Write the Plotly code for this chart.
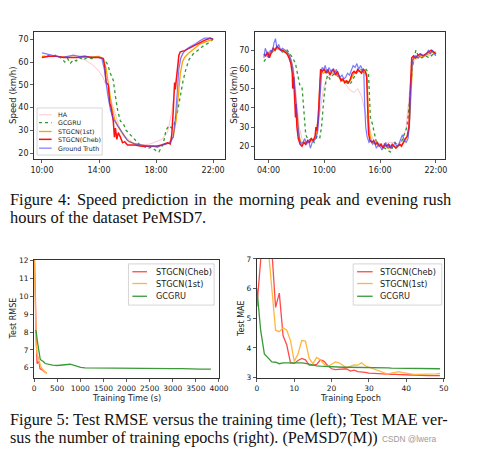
import plotly.graph_objects as go

W, H = 478, 467

# ---------------- data: top-left (evening rush, hours) ----------------
tl_ha_t = [10.0, 11.0, 12.0, 12.5, 13.0, 13.5, 14.0, 14.3, 14.6, 14.9, 15.2, 15.5, 15.9, 16.4, 17.0, 17.6, 18.0, 18.4, 18.8, 19.1, 19.4, 19.6, 19.9, 20.4, 21.0, 21.5, 22.0]
tl_ha_v = [62.5, 62.5, 62, 62, 61, 59, 56, 53, 48, 42, 35, 30, 27, 24.5, 23.5, 24, 25, 26, 29, 38, 52, 60, 64, 67, 69, 70, 70]

tl_gc_t = [10.0, 10.3, 10.6, 11.0, 11.3, 11.6, 11.8, 12.0, 12.2, 12.4, 12.6, 12.9, 13.2, 13.5, 13.8, 14.1, 14.4, 14.6, 14.8, 15.0, 15.15, 15.3, 15.5, 15.7, 15.9, 16.2, 16.5, 16.8, 17.1, 17.4, 17.7, 18.0, 18.2, 18.4, 18.5, 18.7, 18.9, 19.1, 19.3, 19.5, 19.7, 19.9, 20.1, 20.3, 20.6, 20.9, 21.3, 21.7, 22.0]
tl_gc_v = [62, 63, 62.5, 63, 62, 60, 61.5, 59.5, 61, 60.5, 62, 61, 62, 61.5, 62, 62, 61, 59, 55, 52, 45, 39, 34, 33, 30, 28, 26, 24, 23, 22, 22.5, 21, 20.5, 22.5, 24, 30, 32, 31, 33, 38, 46, 52, 57, 61, 63.5, 65, 67, 68.5, 70]

tl_st1_t = [10.0, 11.0, 12.0, 13.0, 14.0, 14.3, 14.5, 14.7, 14.9, 15.1, 15.3, 15.5, 15.8, 16.1, 16.5, 17.0, 17.5, 18.0, 18.5, 18.9, 19.2, 19.4, 19.55, 19.7, 19.85, 20.0, 20.3, 20.7, 21.1, 21.5, 22.0]
tl_st1_v = [62.5, 62.5, 62, 62, 62.5, 61.5, 57, 48, 40, 35, 32, 30, 27, 25, 24, 23.5, 23, 23, 23.5, 24.5, 27, 34, 45, 55, 60, 62, 64, 66, 68, 69, 70]

tl_cheb_t = [10.0, 10.5, 11.0, 11.5, 12.0, 12.5, 13.0, 13.5, 14.0, 14.3, 14.4, 14.5, 14.65, 14.75, 14.85, 15.0, 15.08, 15.15, 15.25, 15.35, 15.5, 15.65, 15.8, 16.0, 16.5, 17.0, 17.5, 18.0, 18.4, 18.8, 19.0, 19.1, 19.2, 19.3, 19.35, 19.45, 19.6, 19.7, 20.0, 20.3, 20.6, 21.0, 21.4, 21.8, 22.0]
tl_cheb_v = [62, 62.5, 62.5, 62, 62, 62, 62.5, 62, 62, 61.5, 58, 51, 50, 42, 40, 34, 27, 31, 26, 29, 27, 24.5, 25, 23.5, 23.5, 23, 23, 23, 23.5, 24.5, 24, 28, 38, 51, 48, 55, 63, 64.5, 65, 66, 67, 68.5, 69.5, 70.5, 70]

tl_gt_t = [10.0, 10.3, 10.7, 11.0, 11.4, 11.8, 12.2, 12.6, 13.0, 13.4, 13.8, 14.0, 14.2, 14.4, 14.6, 14.8, 15.0, 15.3, 15.6, 16.0, 16.5, 17.0, 17.4, 17.8, 18.1, 18.4, 18.7, 19.0, 19.2, 19.35, 19.5, 19.6, 19.75, 19.9, 20.2, 20.5, 20.8, 21.1, 21.4, 21.7, 22.0]
tl_gt_v = [64, 63.5, 63, 62.5, 62, 62.5, 63, 62.5, 62.5, 62, 62, 62, 61.5, 56, 46, 39, 35, 32, 29, 25.5, 24, 23.5, 23, 23, 22.5, 23.5, 24, 24.5, 27, 35, 48, 57, 62, 64, 66, 67, 68, 69.5, 70.5, 70.5, 70]

# ---------------- data: top-right (morning + evening, hours) ----------------
tr_ha_t = [3.5, 4.0, 4.5, 5.0, 5.5, 6.0, 6.4, 6.7, 7.0, 7.3, 7.6, 8.0, 8.5, 9.0, 9.3, 9.6, 9.9, 10.3, 10.8, 11.3, 11.8, 12.3, 12.8, 13.2, 13.6, 14.0, 14.4, 14.8, 15.2, 15.7, 16.3, 16.9, 17.5, 18.0, 18.4, 18.8, 19.1, 19.4, 19.7, 20.2, 21.0, 22.0]
tr_ha_v = [68, 69, 70, 71, 70, 69, 66, 60, 45, 30, 24, 22, 22, 25, 30, 40, 50, 56, 58, 57, 55, 52, 49, 48, 50, 46, 38, 30, 24, 22, 21, 22, 22, 21, 23, 30, 45, 60, 65, 66, 67, 68]

tr_gc_t = [3.5, 3.8, 4.2, 4.6, 5.0, 5.5, 6.0, 6.3, 6.6, 6.9, 7.1, 7.35, 7.6, 7.8, 8.0, 8.3, 8.6, 8.9, 9.2, 9.5, 9.7, 9.95, 10.15, 10.35, 10.6, 10.9, 11.2, 11.5, 11.8, 12.1, 12.4, 12.7, 13.0, 13.3, 13.6, 13.9, 14.2, 14.5, 14.75, 14.95, 15.15, 15.4, 15.6, 15.9, 16.2, 16.5, 16.8, 17.1, 17.3, 17.6, 17.9, 18.2, 18.5, 18.7, 18.9, 19.1, 19.3, 19.5, 19.7, 19.85, 20.1, 20.5, 20.9, 21.3, 21.7, 22.0]
tr_gc_v = [64, 66, 68, 70, 71, 69, 70, 68, 66, 63, 58, 52, 51, 40, 26, 23, 24, 22, 25, 24, 30, 45, 53, 57, 55, 57, 58, 56, 55, 54, 53, 52, 54, 57, 59, 60, 59, 60, 58, 35, 32, 27, 22, 21, 20, 19, 18, 17, 19, 22, 20, 21, 25, 28, 30, 40, 52, 62, 67, 70, 67, 66, 67, 66, 68, 69]

tr_st1_t = [3.5, 3.8, 4.1, 4.4, 4.7, 5.0, 5.3, 5.6, 5.9, 6.2, 6.5, 6.7, 6.9, 7.1, 7.3, 7.5, 7.8, 8.1, 8.4, 8.7, 9.0, 9.2, 9.4, 9.55, 9.7, 9.9, 10.2, 10.5, 10.8, 11.1, 11.4, 11.7, 12.0, 12.3, 12.6, 12.9, 13.2, 13.5, 13.8, 14.1, 14.4, 14.6, 14.75, 14.9, 15.1, 15.4, 15.7, 16.0, 16.3, 16.6, 16.9, 17.2, 17.5, 17.8, 18.1, 18.4, 18.7, 19.0, 19.2, 19.35, 19.5, 19.7, 20.0, 20.4, 20.8, 21.2, 21.6, 22.0]
tr_st1_v = [67, 68, 67, 69, 70, 71, 70, 70, 69, 67, 63, 56, 45, 33, 25, 22, 22, 22, 23, 23, 24, 28, 40, 55, 59, 58, 59, 58, 58, 58, 57, 55, 54, 54, 53, 55, 58, 59, 59, 59, 58, 55, 35, 26, 22, 22, 21, 21, 20, 20, 19, 20, 20, 20, 21, 21, 23, 26, 35, 55, 65, 66, 66, 67, 67, 68, 69, 68]

tr_cheb_t = [3.5, 3.7, 3.9, 4.1, 4.3, 4.5, 4.7, 4.9, 5.1, 5.3, 5.5, 5.8, 6.0, 6.2, 6.4, 6.55, 6.6, 6.7, 6.8, 6.9, 6.95, 7.05, 7.2, 7.4, 7.6, 7.8, 8.0, 8.2, 8.4, 8.6, 8.8, 9.0, 9.1, 9.2, 9.35, 9.5, 9.6, 9.8, 10.0, 10.2, 10.4, 10.6, 10.8, 11.0, 11.2, 11.4, 11.6, 11.8, 12.0, 12.2, 12.4, 12.6, 12.8, 13.0, 13.2, 13.4, 13.6, 13.8, 14.0, 14.2, 14.4, 14.55, 14.65, 14.75, 14.9, 15.1, 15.3, 15.5, 15.7, 15.9, 16.1, 16.3, 16.5, 16.7, 16.9, 17.1, 17.3, 17.5, 17.7, 17.9, 18.1, 18.3, 18.5, 18.7, 18.9, 19.1, 19.2, 19.3, 19.4, 19.6, 19.8, 20.0, 20.3, 20.6, 20.9, 21.2, 21.5, 21.8, 22.0]
tr_cheb_v = [68, 67, 69, 66, 69, 71, 70, 72, 71, 70, 70, 69, 68, 66, 63, 58, 50, 56, 45, 35, 42, 30, 24, 21, 20, 22, 21, 23, 22, 24, 23, 25, 30, 28, 35, 55, 60, 59, 60, 58, 60, 57, 59, 60, 57, 59, 56, 54, 55, 53, 54, 53, 55, 58, 59, 58, 60, 59, 58, 60, 59, 57, 35, 27, 23, 22, 23, 21, 22, 20, 21, 19, 21, 20, 21, 19, 21, 20, 19, 20, 21, 20, 22, 24, 25, 30, 45, 60, 66, 67, 66, 67, 68, 67, 68, 69, 70, 69, 68]

tr_gt_t = [3.5, 3.65, 3.8, 4.0, 4.2, 4.4, 4.6, 4.75, 4.9, 5.1, 5.3, 5.5, 5.8, 6.0, 6.2, 6.4, 6.6, 6.75, 6.9, 7.05, 7.2, 7.35, 7.5, 7.7, 7.9, 8.1, 8.3, 8.5, 8.7, 8.9, 9.1, 9.3, 9.45, 9.6, 9.75, 9.9, 10.1, 10.3, 10.5, 10.7, 10.9, 11.1, 11.3, 11.5, 11.7, 11.9, 12.1, 12.3, 12.5, 12.7, 12.9, 13.1, 13.3, 13.5, 13.7, 13.9, 14.1, 14.25, 14.35, 14.45, 14.6, 14.8, 15.0, 15.2, 15.4, 15.6, 15.8, 16.0, 16.2, 16.4, 16.6, 16.8, 17.0, 17.2, 17.4, 17.6, 17.8, 18.0, 18.2, 18.4, 18.6, 18.8, 19.0, 19.15, 19.3, 19.45, 19.6, 19.8, 20.1, 20.4, 20.7, 21.0, 21.2, 21.4, 21.6, 21.8, 22.0]
tr_gt_v = [66, 71, 69, 66, 70, 69, 74, 76, 71, 73, 70, 71, 70, 69, 68, 65, 61, 55, 45, 36, 29, 23, 21, 22, 24, 21, 23, 19, 22, 23, 24, 28, 40, 55, 61, 60, 62, 58, 61, 59, 60, 58, 60, 57, 56, 57, 55, 56, 58, 57, 60, 62, 61, 63, 60, 62, 60, 58, 40, 30, 25, 22, 23, 21, 22, 19, 21, 20, 18, 20, 22, 19, 21, 19, 20, 22, 20, 21, 24, 26, 23, 22, 24, 30, 50, 63, 66, 67, 66, 68, 67, 68, 70, 68, 70, 68, 67]

# ---------------- data: bottom-left (RMSE vs training time, s) ----------------
bl_cheb_t = [0, 14, 28, 40, 49, 63, 75, 84, 100, 112, 126, 150, 168, 200, 224, 250, 273]
bl_cheb_v = [13, 12, 9.9, 8.2, 7.15, 6.24, 6.28, 6.35, 6.3, 6.24, 5.96, 5.93, 5.9, 5.84, 5.78, 5.74, 5.7]
bl_st1_t = [0, 10, 28, 45, 63, 85, 112, 140, 168, 200, 238, 273]
bl_st1_v = [12.5, 11, 8.1, 7.3, 6.8, 6.55, 6.33, 6.1, 5.96, 5.85, 5.76, 5.72]
bl_gc_t = [30, 42, 70, 100, 130, 154, 200, 238, 300, 400, 500, 600, 700, 780, 850, 950, 1007, 1100, 1300, 1500, 1800, 2000, 2200, 2400, 2600, 2800, 3000, 3200, 3400, 3600, 3825]
bl_gc_v = [8.1, 8.07, 7.5, 6.9, 6.5, 6.42, 6.35, 6.24, 6.2, 6.15, 6.13, 6.15, 6.18, 6.2, 6.15, 6.05, 6.02, 6.0, 6.0, 5.98, 5.97, 5.96, 5.98, 5.97, 6.0, 5.96, 5.96, 5.95, 5.93, 5.93, 5.93]

# ---------------- data: bottom-right (MAE vs epoch) ----------------
br_epoch = list(range(50))
br_cheb = [5.4, 7.05, 8.5, 8.3, 7.3, 5.37, 5.85, 4.42, 4.1, 3.5, 3.48, 3.58, 3.65, 3.6, 3.42, 3.42, 3.45, 3.6, 3.55, 3.4, 3.3, 3.27, 3.28, 3.28, 3.3, 3.22, 3.25, 3.2, 3.2, 3.18, 3.15, 3.14, 3.13, 3.13, 3.12, 3.12, 3.11, 3.11, 3.1, 3.1, 3.1, 3.09, 3.09, 3.08, 3.08, 3.07, 3.07, 3.07, 3.07, 3.07]
br_st1 = [9.5, 9.0, 8.2, 7.4, 6.0, 4.6, 4.55, 4.68, 4.6, 4.25, 3.55, 3.8, 4.25, 4.23, 3.65, 3.47, 3.68, 3.6, 3.45, 3.38, 3.45, 3.53, 3.5, 3.4, 3.33, 3.38, 3.43, 3.42, 3.5, 3.4, 3.35, 3.3, 3.25, 3.2, 3.15, 3.12, 3.15, 3.18, 3.2, 3.17, 3.15, 3.12, 3.11, 3.11, 3.11, 3.11, 3.12, 3.12, 3.13, 3.14]
br_gc = [6.0, 4.6, 3.8, 3.65, 3.53, 3.52, 3.47, 3.5, 3.5, 3.52, 3.5, 3.5, 3.5, 3.48, 3.45, 3.42, 3.4, 3.39, 3.38, 3.37, 3.36, 3.36, 3.35, 3.35, 3.35, 3.35, 3.34, 3.34, 3.33, 3.33, 3.33, 3.33, 3.35, 3.35, 3.34, 3.33, 3.32, 3.32, 3.32, 3.31, 3.31, 3.3, 3.3, 3.3, 3.3, 3.3, 3.3, 3.3, 3.3, 3.3]

# tick labels
tl_tickvals = [10, 14, 18, 22]
tl_ticktext = ["10:00", "14:00", "18:00", "22:00"]
tr_tickvals = [4, 10, 16, 22]
tr_ticktext = ["04:00", "10:00", "16:00", "22:00"]

top_names = ["HA", "GCGRU", "STGCN(1st)", "STGCN(Cheb)", "Ground Truth"]
bot_names = ["STGCN(Cheb)", "STGCN(1st)", "GCGRU"]

# captions
cap4_words = ["Figure", "4:", "Speed", "prediction", "in", "the", "morning", "peak", "and", "evening", "rush"]
cap4_line2 = "hours of the dataset PeMSD7."
cap5_line1 = "Figure 5: Test RMSE versus the training time (left); Test MAE ver-"
cap5_line2 = "sus the number of training epochs (right). (PeMSD7(M))"
watermark = "CSDN @lwera"

# ---------------- styles ----------------
C_HA = "#ffc4cd"
C_GC = "#2f9a2f"
C_ST1 = "#ffa000"
C_CHEB = "#ff1010"
C_GT = "rgba(70,70,255,0.72)"
B_CHEB = "#ff4a4a"
B_ST1 = "#ffb640"
B_GC = "#3a9a3a"

FONT = "DejaVu Sans"
SERIF = "Liberation Serif"


def px(x):
    return x / W


def py(y):
    return 1 - y / H


fig = go.Figure()


def add(xs, ys, ax, color, width=1.2, dash="solid"):
    fig.add_trace(go.Scatter(x=xs, y=ys, mode="lines", xaxis="x" + ax, yaxis="y" + ax,
                             line=dict(color=color, width=width, dash=dash),
                             showlegend=False, hoverinfo="skip"))


# top-left
add(tl_ha_t, tl_ha_v, "", C_HA, 1.0)
add(tl_gc_t, tl_gc_v, "", C_GC, 1.3, "dot")
add(tl_st1_t, tl_st1_v, "", C_ST1, 1.3)
add(tl_cheb_t, tl_cheb_v, "", C_CHEB, 1.5)
add(tl_gt_t, tl_gt_v, "", C_GT, 1.2)
# top-right
add(tr_ha_t, tr_ha_v, "2", C_HA, 1.0)
add(tr_gc_t, tr_gc_v, "2", C_GC, 1.3, "dot")
add(tr_st1_t, tr_st1_v, "2", C_ST1, 1.3)
add(tr_cheb_t, tr_cheb_v, "2", C_CHEB, 1.5)
add(tr_gt_t, tr_gt_v, "2", C_GT, 1.2)
# bottom-left
add(bl_cheb_t, bl_cheb_v, "3", B_CHEB, 1.3)
add(bl_st1_t, bl_st1_v, "3", B_ST1, 1.3)
add(bl_gc_t, bl_gc_v, "3", B_GC, 1.3)
# bottom-right
add(br_epoch, br_cheb, "4", B_CHEB, 1.3)
add(br_epoch, br_st1, "4", B_ST1, 1.3)
add(br_epoch, br_gc, "4", B_GC, 1.3)


def axstyle(**kw):
    d = dict(showline=True, linecolor="#333", linewidth=1, mirror=True, ticks="outside",
             ticklen=3, tickwidth=0.8, tickcolor="#333", showgrid=False, zeroline=False,
             tickfont=dict(family=FONT, size=8, color="#222"), fixedrange=True)
    d.update(kw)
    return d


bf = dict(family=FONT, size=7.5, color="#222")
fig.update_layout(
    width=W, height=H, margin=dict(l=0, r=0, t=0, b=0),
    paper_bgcolor="white", plot_bgcolor="white", showlegend=False,
    xaxis=axstyle(domain=[px(32), px(228)], range=[9.45, 22.82], tickvals=tl_tickvals, ticktext=tl_ticktext, anchor="y"),
    yaxis=axstyle(domain=[py(158), py(29)], range=[17.4, 73.0], tickvals=[20, 30, 40, 50, 60, 70], anchor="x"),
    xaxis2=axstyle(domain=[px(259), px(454)], range=[2.54, 22.94], tickvals=tr_tickvals, ticktext=tr_ticktext, anchor="y2"),
    yaxis2=axstyle(domain=[py(158), py(29)], range=[13.4, 79.2], tickvals=[20, 30, 40, 50, 60, 70], anchor="x2"),
    xaxis3=axstyle(domain=[px(32), px(222)], range=[0, 4000], tickvals=list(range(0, 4001, 500)), anchor="y3", tickfont=bf),
    yaxis3=axstyle(domain=[py(381), py(261)], range=[5.45, 12.03], tickvals=list(range(6, 13)), anchor="x3", tickfont=bf),
    xaxis4=axstyle(domain=[px(261), px(453)], range=[0, 50], tickvals=list(range(0, 51, 10)), anchor="y4", tickfont=bf),
    yaxis4=axstyle(domain=[py(381), py(260)], range=[3, 7], tickvals=[3, 4, 5, 6, 7], anchor="x4", tickfont=bf),
)

ann = []
shapes = []


def text(x, y, s, size=8, color="#222", family=FONT, angle=0, xanchor="center", yanchor="middle", pad=1):
    ann.append(dict(x=px(x), y=py(y), xref="paper", yref="paper", text=s, showarrow=False,
                    font=dict(family=family, size=size, color=color), textangle=angle,
                    xanchor=xanchor, yanchor=yanchor, borderpad=pad, borderwidth=0))


# axis titles
text(11, 93, "Speed (km/h)", 8.5, angle=-90)
text(238, 93, "Speed (km/h)", 8.5, angle=-90)
text(11, 321, "Test RMSE", 8, angle=-90)
text(246, 321, "Test MAE", 8, angle=-90)
text(127, 402, "Training Time (s)", 8.2, pad=0)
text(357, 402, "Training Epoch", 8.2, pad=0)


def legend(x0, y0, x1, y1, rows, sx0, sx1, tx, fs):
    shapes.append(dict(type="rect", xref="paper", yref="paper", x0=px(x0), x1=px(x1), y0=py(y1), y1=py(y0),
                       line=dict(color="#cccccc", width=0.8), fillcolor="rgba(255,255,255,0.85)", layer="above"))
    for (yy, name, color, dash, wd) in rows:
        shapes.append(dict(type="line", xref="paper", yref="paper", x0=px(sx0), x1=px(sx1), y0=py(yy), y1=py(yy),
                           line=dict(color=color, width=wd, dash=dash), layer="above"))
        text(tx, yy, name, fs, xanchor="left")


legend(35, 106, 102, 154,
       [(113, top_names[0], C_HA, "solid", 1.0), (121, top_names[1], C_GC, "dot", 1.3),
        (130, top_names[2], C_ST1, "solid", 1.3), (138, top_names[3], C_CHEB, "solid", 1.5),
        (147, top_names[4], C_GT, "solid", 1.2)], 37, 50, 55, 6.3)
legend(129, 265, 217, 307,
       [(273, bot_names[0], B_CHEB, "solid", 1.3), (285, bot_names[1], B_ST1, "solid", 1.3),
        (298, bot_names[2], B_GC, "solid", 1.3)], 133, 148, 156, 8.2)
legend(360, 265, 451, 307,
       [(273, bot_names[0], B_CHEB, "solid", 1.3), (285, bot_names[1], B_ST1, "solid", 1.3),
        (298, bot_names[2], B_GC, "solid", 1.3)], 364, 380, 387, 8.2)

# captions: first line of Figure 4 is justified in the source, so words are placed individually
cap4_x = [7, 56.6, 76.0, 122.8, 196.3, 215.6, 242.3, 304.8, 342.5, 372.8, 431.6]
for wx, wd in zip(cap4_x, cap4_words):
    text(wx, 199, wd, 16.4, "#111", SERIF, xanchor="left", pad=0)
text(7, 218, cap4_line2, 16.4, "#111", SERIF, xanchor="left", pad=0)
text(7, 424, cap5_line1, 16.3, "#111", SERIF, xanchor="left", pad=0)
text(7, 443, cap5_line2, 16.2, "#111", SERIF, xanchor="left", pad=0)
text(390, 444, watermark, 8.3, "#9a9a9a", "Liberation Sans", xanchor="left", pad=0)

fig.update_layout(annotations=ann, shapes=shapes)
fig.write_html("out.html", config={"displayModeBar": False, "staticPlot": True},
               post_script="document.body.style.margin='0px';document.body.style.overflow='hidden';")
